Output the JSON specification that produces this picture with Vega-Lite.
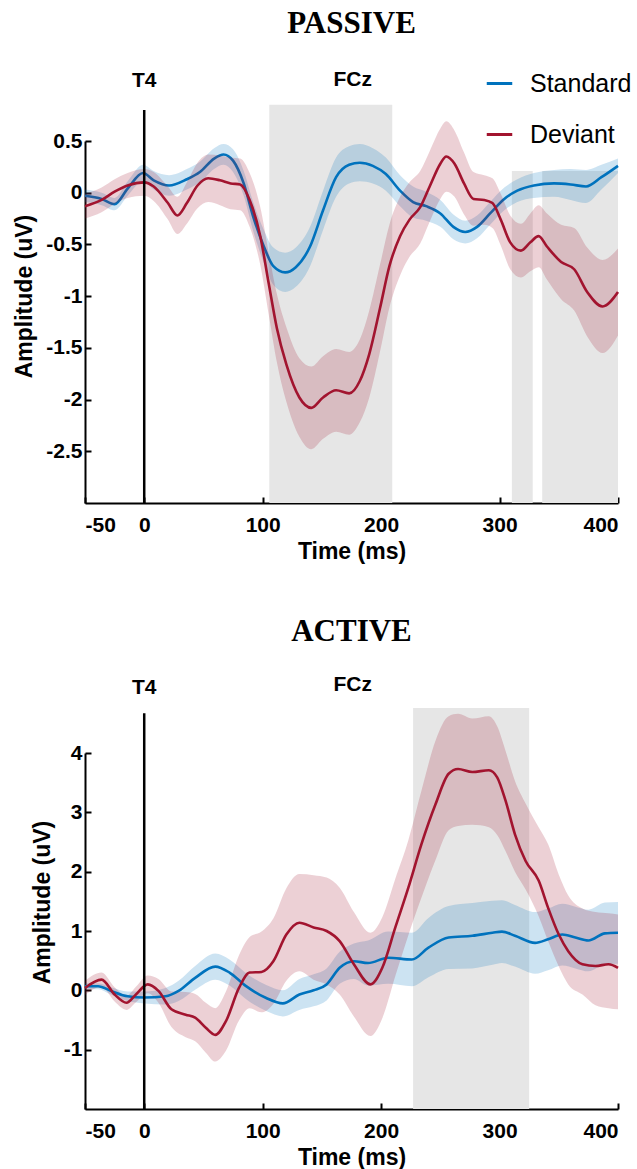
{
  "$schema": "https://vega.github.io/schema/vega-lite/v6.json",
  "padding": {"left": 13, "top": 8, "right": 0, "bottom": 0},
  "config": {
    "view": {"stroke": null},
    "axis": {"domainColor": "black", "domainWidth": 2, "tickColor": "black", "tickWidth": 2, "tickSize": -6, "grid": false,
      "labelFont": "Liberation Sans", "labelFontWeight": "bold", "labelFontSize": 21, "labelColor": "black",
      "titleFont": "Liberation Sans", "titleFontWeight": "bold", "titleFontSize": 23, "titleColor": "black"},
    "title": {"font": "Liberation Serif", "fontSize": 31, "fontWeight": "bold", "color": "black", "anchor": "middle"}
  },
  "datasets": {
    "erp": [
      {"p":"PASSIVE","c":"Standard","t":-50,"m":-0.03,"lo":-0.09,"hi":0.03},
      {"p":"PASSIVE","c":"Standard","t":-36,"m":-0.06,"lo":-0.12,"hi":0.00},
      {"p":"PASSIVE","c":"Standard","t":-25,"m":-0.11,"lo":-0.17,"hi":-0.05},
      {"p":"PASSIVE","c":"Standard","t":-14,"m":0.04,"lo":-0.03,"hi":0.11},
      {"p":"PASSIVE","c":"Standard","t":-1,"m":0.19,"lo":0.11,"hi":0.27},
      {"p":"PASSIVE","c":"Standard","t":8,"m":0.12,"lo":0.03,"hi":0.21},
      {"p":"PASSIVE","c":"Standard","t":21,"m":0.07,"lo":-0.03,"hi":0.17},
      {"p":"PASSIVE","c":"Standard","t":36,"m":0.13,"lo":0.03,"hi":0.23},
      {"p":"PASSIVE","c":"Standard","t":47,"m":0.20,"lo":0.10,"hi":0.30},
      {"p":"PASSIVE","c":"Standard","t":59,"m":0.33,"lo":0.23,"hi":0.43},
      {"p":"PASSIVE","c":"Standard","t":67,"m":0.37,"lo":0.27,"hi":0.47},
      {"p":"PASSIVE","c":"Standard","t":75,"m":0.31,"lo":0.20,"hi":0.42},
      {"p":"PASSIVE","c":"Standard","t":84,"m":0.09,"lo":-0.03,"hi":0.21},
      {"p":"PASSIVE","c":"Standard","t":92,"m":-0.23,"lo":-0.37,"hi":-0.09},
      {"p":"PASSIVE","c":"Standard","t":101,"m":-0.52,"lo":-0.68,"hi":-0.36},
      {"p":"PASSIVE","c":"Standard","t":109,"m":-0.71,"lo":-0.89,"hi":-0.53},
      {"p":"PASSIVE","c":"Standard","t":119,"m":-0.77,"lo":-0.96,"hi":-0.58},
      {"p":"PASSIVE","c":"Standard","t":128,"m":-0.72,"lo":-0.91,"hi":-0.53},
      {"p":"PASSIVE","c":"Standard","t":140,"m":-0.52,"lo":-0.71,"hi":-0.33},
      {"p":"PASSIVE","c":"Standard","t":151,"m":-0.17,"lo":-0.36,"hi":0.02},
      {"p":"PASSIVE","c":"Standard","t":162,"m":0.15,"lo":-0.04,"hi":0.34},
      {"p":"PASSIVE","c":"Standard","t":173,"m":0.27,"lo":0.09,"hi":0.45},
      {"p":"PASSIVE","c":"Standard","t":182,"m":0.29,"lo":0.11,"hi":0.47},
      {"p":"PASSIVE","c":"Standard","t":193,"m":0.26,"lo":0.09,"hi":0.43},
      {"p":"PASSIVE","c":"Standard","t":204,"m":0.18,"lo":0.02,"hi":0.34},
      {"p":"PASSIVE","c":"Standard","t":216,"m":0.02,"lo":-0.13,"hi":0.17},
      {"p":"PASSIVE","c":"Standard","t":227,"m":-0.09,"lo":-0.24,"hi":0.06},
      {"p":"PASSIVE","c":"Standard","t":238,"m":-0.13,"lo":-0.27,"hi":0.01},
      {"p":"PASSIVE","c":"Standard","t":250,"m":-0.20,"lo":-0.33,"hi":-0.07},
      {"p":"PASSIVE","c":"Standard","t":261,"m":-0.33,"lo":-0.45,"hi":-0.21},
      {"p":"PASSIVE","c":"Standard","t":271,"m":-0.38,"lo":-0.49,"hi":-0.27},
      {"p":"PASSIVE","c":"Standard","t":281,"m":-0.33,"lo":-0.44,"hi":-0.22},
      {"p":"PASSIVE","c":"Standard","t":292,"m":-0.20,"lo":-0.31,"hi":-0.09},
      {"p":"PASSIVE","c":"Standard","t":304,"m":-0.06,"lo":-0.17,"hi":0.05},
      {"p":"PASSIVE","c":"Standard","t":315,"m":0.02,"lo":-0.09,"hi":0.13},
      {"p":"PASSIVE","c":"Standard","t":329,"m":0.07,"lo":-0.05,"hi":0.19},
      {"p":"PASSIVE","c":"Standard","t":346,"m":0.09,"lo":-0.04,"hi":0.22},
      {"p":"PASSIVE","c":"Standard","t":360,"m":0.08,"lo":-0.07,"hi":0.23},
      {"p":"PASSIVE","c":"Standard","t":373,"m":0.06,"lo":-0.10,"hi":0.22},
      {"p":"PASSIVE","c":"Standard","t":386,"m":0.15,"lo":0.03,"hi":0.27},
      {"p":"PASSIVE","c":"Standard","t":400,"m":0.26,"lo":0.19,"hi":0.33},

      {"p":"PASSIVE","c":"Deviant","t":-50,"m":-0.13,"lo":-0.25,"hi":-0.01},
      {"p":"PASSIVE","c":"Deviant","t":-36,"m":-0.07,"lo":-0.19,"hi":0.05},
      {"p":"PASSIVE","c":"Deviant","t":-25,"m":0.01,"lo":-0.11,"hi":0.13},
      {"p":"PASSIVE","c":"Deviant","t":-14,"m":0.07,"lo":-0.05,"hi":0.19},
      {"p":"PASSIVE","c":"Deviant","t":0,"m":0.10,"lo":-0.03,"hi":0.23},
      {"p":"PASSIVE","c":"Deviant","t":8,"m":0.06,"lo":-0.08,"hi":0.20},
      {"p":"PASSIVE","c":"Deviant","t":20,"m":-0.10,"lo":-0.26,"hi":0.06},
      {"p":"PASSIVE","c":"Deviant","t":28,"m":-0.22,"lo":-0.40,"hi":-0.04},
      {"p":"PASSIVE","c":"Deviant","t":36,"m":-0.10,"lo":-0.30,"hi":0.10},
      {"p":"PASSIVE","c":"Deviant","t":45,"m":0.07,"lo":-0.15,"hi":0.29},
      {"p":"PASSIVE","c":"Deviant","t":54,"m":0.14,"lo":-0.09,"hi":0.37},
      {"p":"PASSIVE","c":"Deviant","t":64,"m":0.12,"lo":-0.12,"hi":0.36},
      {"p":"PASSIVE","c":"Deviant","t":73,"m":0.09,"lo":-0.16,"hi":0.34},
      {"p":"PASSIVE","c":"Deviant","t":81,"m":0.08,"lo":-0.17,"hi":0.33},
      {"p":"PASSIVE","c":"Deviant","t":89,"m":-0.07,"lo":-0.33,"hi":0.19},
      {"p":"PASSIVE","c":"Deviant","t":98,"m":-0.42,"lo":-0.70,"hi":-0.14},
      {"p":"PASSIVE","c":"Deviant","t":105,"m":-0.87,"lo":-1.17,"hi":-0.57},
      {"p":"PASSIVE","c":"Deviant","t":112,"m":-1.31,"lo":-1.64,"hi":-0.98},
      {"p":"PASSIVE","c":"Deviant","t":120,"m":-1.66,"lo":-2.02,"hi":-1.30},
      {"p":"PASSIVE","c":"Deviant","t":131,"m":-1.98,"lo":-2.36,"hi":-1.60},
      {"p":"PASSIVE","c":"Deviant","t":141,"m":-2.08,"lo":-2.48,"hi":-1.68},
      {"p":"PASSIVE","c":"Deviant","t":151,"m":-1.98,"lo":-2.38,"hi":-1.58},
      {"p":"PASSIVE","c":"Deviant","t":162,"m":-1.91,"lo":-2.31,"hi":-1.51},
      {"p":"PASSIVE","c":"Deviant","t":173,"m":-1.94,"lo":-2.34,"hi":-1.54},
      {"p":"PASSIVE","c":"Deviant","t":182,"m":-1.82,"lo":-2.22,"hi":-1.42},
      {"p":"PASSIVE","c":"Deviant","t":190,"m":-1.56,"lo":-1.98,"hi":-1.14},
      {"p":"PASSIVE","c":"Deviant","t":199,"m":-1.12,"lo":-1.54,"hi":-0.70},
      {"p":"PASSIVE","c":"Deviant","t":207,"m":-0.71,"lo":-1.11,"hi":-0.31},
      {"p":"PASSIVE","c":"Deviant","t":216,"m":-0.42,"lo":-0.80,"hi":-0.04},
      {"p":"PASSIVE","c":"Deviant","t":224,"m":-0.26,"lo":-0.62,"hi":0.10},
      {"p":"PASSIVE","c":"Deviant","t":233,"m":-0.14,"lo":-0.49,"hi":0.21},
      {"p":"PASSIVE","c":"Deviant","t":241,"m":0.06,"lo":-0.28,"hi":0.40},
      {"p":"PASSIVE","c":"Deviant","t":250,"m":0.28,"lo":-0.06,"hi":0.62},
      {"p":"PASSIVE","c":"Deviant","t":255,"m":0.35,"lo":0.01,"hi":0.69},
      {"p":"PASSIVE","c":"Deviant","t":262,"m":0.28,"lo":-0.04,"hi":0.60},
      {"p":"PASSIVE","c":"Deviant","t":270,"m":0.09,"lo":-0.21,"hi":0.39},
      {"p":"PASSIVE","c":"Deviant","t":278,"m":-0.06,"lo":-0.32,"hi":0.20},
      {"p":"PASSIVE","c":"Deviant","t":287,"m":-0.07,"lo":-0.31,"hi":0.17},
      {"p":"PASSIVE","c":"Deviant","t":294,"m":-0.10,"lo":-0.34,"hi":0.14},
      {"p":"PASSIVE","c":"Deviant","t":301,"m":-0.26,"lo":-0.51,"hi":-0.01},
      {"p":"PASSIVE","c":"Deviant","t":309,"m":-0.48,"lo":-0.74,"hi":-0.22},
      {"p":"PASSIVE","c":"Deviant","t":318,"m":-0.56,"lo":-0.82,"hi":-0.30},
      {"p":"PASSIVE","c":"Deviant","t":326,"m":-0.48,"lo":-0.76,"hi":-0.20},
      {"p":"PASSIVE","c":"Deviant","t":333,"m":-0.42,"lo":-0.72,"hi":-0.12},
      {"p":"PASSIVE","c":"Deviant","t":340,"m":-0.52,"lo":-0.84,"hi":-0.20},
      {"p":"PASSIVE","c":"Deviant","t":352,"m":-0.67,"lo":-1.03,"hi":-0.31},
      {"p":"PASSIVE","c":"Deviant","t":363,"m":-0.74,"lo":-1.14,"hi":-0.34},
      {"p":"PASSIVE","c":"Deviant","t":374,"m":-0.96,"lo":-1.39,"hi":-0.53},
      {"p":"PASSIVE","c":"Deviant","t":387,"m":-1.10,"lo":-1.55,"hi":-0.65},
      {"p":"PASSIVE","c":"Deviant","t":400,"m":-0.96,"lo":-1.38,"hi":-0.54},

      {"p":"ACTIVE","c":"Standard","t":-50,"m":0.07,"lo":0.02,"hi":0.12},
      {"p":"ACTIVE","c":"Standard","t":-39,"m":0.07,"lo":0.02,"hi":0.12},
      {"p":"ACTIVE","c":"Standard","t":-28,"m":-0.01,"lo":-0.07,"hi":0.05},
      {"p":"ACTIVE","c":"Standard","t":-14,"m":-0.10,"lo":-0.18,"hi":-0.02},
      {"p":"ACTIVE","c":"Standard","t":0,"m":-0.12,"lo":-0.22,"hi":-0.02},
      {"p":"ACTIVE","c":"Standard","t":18,"m":-0.10,"lo":-0.24,"hi":0.04},
      {"p":"ACTIVE","c":"Standard","t":29,"m":-0.01,"lo":-0.18,"hi":0.16},
      {"p":"ACTIVE","c":"Standard","t":43,"m":0.21,"lo":0.01,"hi":0.41},
      {"p":"ACTIVE","c":"Standard","t":60,"m":0.40,"lo":0.18,"hi":0.62},
      {"p":"ACTIVE","c":"Standard","t":72,"m":0.30,"lo":0.08,"hi":0.52},
      {"p":"ACTIVE","c":"Standard","t":86,"m":0.07,"lo":-0.15,"hi":0.29},
      {"p":"ACTIVE","c":"Standard","t":103,"m":-0.13,"lo":-0.35,"hi":0.09},
      {"p":"ACTIVE","c":"Standard","t":117,"m":-0.22,"lo":-0.44,"hi":0.00},
      {"p":"ACTIVE","c":"Standard","t":131,"m":-0.07,"lo":-0.33,"hi":0.19},
      {"p":"ACTIVE","c":"Standard","t":143,"m":0.00,"lo":-0.27,"hi":0.27},
      {"p":"ACTIVE","c":"Standard","t":154,"m":0.10,"lo":-0.17,"hi":0.37},
      {"p":"ACTIVE","c":"Standard","t":165,"m":0.38,"lo":0.11,"hi":0.65},
      {"p":"ACTIVE","c":"Standard","t":177,"m":0.49,"lo":0.19,"hi":0.79},
      {"p":"ACTIVE","c":"Standard","t":189,"m":0.46,"lo":0.08,"hi":0.84},
      {"p":"ACTIVE","c":"Standard","t":206,"m":0.55,"lo":0.11,"hi":0.99},
      {"p":"ACTIVE","c":"Standard","t":226,"m":0.52,"lo":0.07,"hi":0.97},
      {"p":"ACTIVE","c":"Standard","t":240,"m":0.72,"lo":0.22,"hi":1.22},
      {"p":"ACTIVE","c":"Standard","t":257,"m":0.89,"lo":0.36,"hi":1.42},
      {"p":"ACTIVE","c":"Standard","t":277,"m":0.92,"lo":0.37,"hi":1.47},
      {"p":"ACTIVE","c":"Standard","t":294,"m":0.97,"lo":0.43,"hi":1.51},
      {"p":"ACTIVE","c":"Standard","t":302,"m":0.99,"lo":0.46,"hi":1.52},
      {"p":"ACTIVE","c":"Standard","t":313,"m":0.92,"lo":0.40,"hi":1.44},
      {"p":"ACTIVE","c":"Standard","t":330,"m":0.80,"lo":0.28,"hi":1.32},
      {"p":"ACTIVE","c":"Standard","t":341,"m":0.86,"lo":0.34,"hi":1.38},
      {"p":"ACTIVE","c":"Standard","t":353,"m":0.94,"lo":0.42,"hi":1.46},
      {"p":"ACTIVE","c":"Standard","t":364,"m":0.89,"lo":0.37,"hi":1.41},
      {"p":"ACTIVE","c":"Standard","t":375,"m":0.84,"lo":0.32,"hi":1.36},
      {"p":"ACTIVE","c":"Standard","t":389,"m":0.96,"lo":0.44,"hi":1.48},
      {"p":"ACTIVE","c":"Standard","t":400,"m":0.97,"lo":0.45,"hi":1.49},

      {"p":"ACTIVE","c":"Deviant","t":-50,"m":0.04,"lo":-0.08,"hi":0.16},
      {"p":"ACTIVE","c":"Deviant","t":-36,"m":0.18,"lo":0.06,"hi":0.30},
      {"p":"ACTIVE","c":"Deviant","t":-25,"m":-0.07,"lo":-0.19,"hi":0.05},
      {"p":"ACTIVE","c":"Deviant","t":-15,"m":-0.21,"lo":-0.33,"hi":-0.09},
      {"p":"ACTIVE","c":"Deviant","t":-7,"m":-0.07,"lo":-0.20,"hi":0.06},
      {"p":"ACTIVE","c":"Deviant","t":3,"m":0.10,"lo":-0.05,"hi":0.25},
      {"p":"ACTIVE","c":"Deviant","t":12,"m":-0.01,"lo":-0.21,"hi":0.19},
      {"p":"ACTIVE","c":"Deviant","t":23,"m":-0.32,"lo":-0.62,"hi":-0.02},
      {"p":"ACTIVE","c":"Deviant","t":35,"m":-0.41,"lo":-0.79,"hi":-0.03},
      {"p":"ACTIVE","c":"Deviant","t":43,"m":-0.46,"lo":-0.86,"hi":-0.06},
      {"p":"ACTIVE","c":"Deviant","t":52,"m":-0.63,"lo":-1.05,"hi":-0.21},
      {"p":"ACTIVE","c":"Deviant","t":60,"m":-0.75,"lo":-1.20,"hi":-0.30},
      {"p":"ACTIVE","c":"Deviant","t":69,"m":-0.52,"lo":-1.02,"hi":-0.02},
      {"p":"ACTIVE","c":"Deviant","t":80,"m":0.04,"lo":-0.51,"hi":0.59},
      {"p":"ACTIVE","c":"Deviant","t":89,"m":0.30,"lo":-0.30,"hi":0.90},
      {"p":"ACTIVE","c":"Deviant","t":99,"m":0.31,"lo":-0.37,"hi":0.99},
      {"p":"ACTIVE","c":"Deviant","t":109,"m":0.49,"lo":-0.23,"hi":1.21},
      {"p":"ACTIVE","c":"Deviant","t":120,"m":0.94,"lo":0.16,"hi":1.72},
      {"p":"ACTIVE","c":"Deviant","t":131,"m":1.14,"lo":0.32,"hi":1.96},
      {"p":"ACTIVE","c":"Deviant","t":143,"m":1.06,"lo":0.18,"hi":1.94},
      {"p":"ACTIVE","c":"Deviant","t":154,"m":1.00,"lo":0.10,"hi":1.90},
      {"p":"ACTIVE","c":"Deviant","t":165,"m":0.83,"lo":-0.07,"hi":1.73},
      {"p":"ACTIVE","c":"Deviant","t":177,"m":0.44,"lo":-0.44,"hi":1.32},
      {"p":"ACTIVE","c":"Deviant","t":191,"m":0.10,"lo":-0.77,"hi":0.97},
      {"p":"ACTIVE","c":"Deviant","t":201,"m":0.38,"lo":-0.47,"hi":1.23},
      {"p":"ACTIVE","c":"Deviant","t":212,"m":1.06,"lo":0.24,"hi":1.88},
      {"p":"ACTIVE","c":"Deviant","t":223,"m":1.73,"lo":0.93,"hi":2.53},
      {"p":"ACTIVE","c":"Deviant","t":234,"m":2.46,"lo":1.56,"hi":3.36},
      {"p":"ACTIVE","c":"Deviant","t":246,"m":3.14,"lo":2.20,"hi":4.21},
      {"p":"ACTIVE","c":"Deviant","t":257,"m":3.65,"lo":2.70,"hi":4.62},
      {"p":"ACTIVE","c":"Deviant","t":265,"m":3.73,"lo":2.77,"hi":4.66},
      {"p":"ACTIVE","c":"Deviant","t":277,"m":3.68,"lo":2.79,"hi":4.58},
      {"p":"ACTIVE","c":"Deviant","t":291,"m":3.71,"lo":2.75,"hi":4.62},
      {"p":"ACTIVE","c":"Deviant","t":298,"m":3.59,"lo":2.62,"hi":4.45},
      {"p":"ACTIVE","c":"Deviant","t":305,"m":3.20,"lo":2.35,"hi":4.04},
      {"p":"ACTIVE","c":"Deviant","t":313,"m":2.63,"lo":2.00,"hi":3.53},
      {"p":"ACTIVE","c":"Deviant","t":322,"m":2.18,"lo":1.70,"hi":3.15},
      {"p":"ACTIVE","c":"Deviant","t":333,"m":1.85,"lo":1.25,"hi":2.75},
      {"p":"ACTIVE","c":"Deviant","t":341,"m":1.39,"lo":0.83,"hi":2.46},
      {"p":"ACTIVE","c":"Deviant","t":350,"m":0.94,"lo":0.40,"hi":1.95},
      {"p":"ACTIVE","c":"Deviant","t":358,"m":0.66,"lo":0.10,"hi":1.60},
      {"p":"ACTIVE","c":"Deviant","t":370,"m":0.44,"lo":-0.07,"hi":1.38},
      {"p":"ACTIVE","c":"Deviant","t":381,"m":0.41,"lo":-0.25,"hi":1.32},
      {"p":"ACTIVE","c":"Deviant","t":392,"m":0.44,"lo":-0.30,"hi":1.30},
      {"p":"ACTIVE","c":"Deviant","t":400,"m":0.38,"lo":-0.32,"hi":1.28}
    ],
    "rects": [
      {"p":"PASSIVE","x1":105.6,"x2":209.4,"y1":-3,"y2":0.85},
      {"p":"PASSIVE","x1":310.4,"x2":328,"y1":-3,"y2":0.21},
      {"p":"PASSIVE","x1":336,"x2":400,"y1":-3,"y2":0.21},
      {"p":"ACTIVE","x1":227,"x2":325,"y1":-2,"y2":4.76}
    ],
    "rules": [
      {"p":"PASSIVE","t":0,"y1":-3,"y2":0.8},
      {"p":"ACTIVE","t":0,"y1":-2,"y2":4.67}
    ],
    "labels": [
      {"p":"PASSIVE","t":0,"y":1.02,"label":"T4"},
      {"p":"PASSIVE","t":176,"y":1.03,"label":"FCz"},
      {"p":"ACTIVE","t":0,"y":4.99,"label":"T4"},
      {"p":"ACTIVE","t":176,"y":5.05,"label":"FCz"}
    ]
  },
  "vconcat": [
    {
      "title": {"text": "PASSIVE", "offset": 29},
      "width": 533,
      "height": 362,
      "layer": [
        {
          "data": {"name": "rects"},
          "transform": [{"filter": "datum.p == 'PASSIVE'"}],
          "mark": {"type": "rect", "color": "#e6e6e6"},
          "encoding": {
            "x": {"field": "x1", "type": "quantitative", "title": "Time (ms)",
              "scale": {"domain": [-50, 400], "nice": false, "zero": false},
              "axis": {"values": [-50, 0, 100, 200, 300, 400], "labelExpr": "'' + datum.value", "labelPadding": 17, "titlePadding": 5}},
            "x2": {"field": "x2"},
            "y": {"field": "y1", "type": "quantitative", "title": "Amplitude (uV)",
              "scale": {"domain": [-3, 0.5], "nice": false, "zero": false},
              "axis": {"values": [-2.5, -2, -1.5, -1, -0.5, 0, 0.5], "labelExpr": "'' + datum.value", "labelPadding": 9, "titlePadding": 9, "titleY": 155}},
            "y2": {"field": "y2"}
          }
        },
        {
          "data": {"name": "erp"},
          "transform": [{"filter": "datum.p == 'PASSIVE' && datum.c == 'Standard'"}],
          "mark": {"type": "area", "opacity": 0.2, "interpolate": "monotone", "color": "#0072BD"},
          "encoding": {
            "x": {"field": "t", "type": "quantitative", "title": "Time (ms)"},
            "y": {"field": "lo", "type": "quantitative", "title": "Amplitude (uV)"},
            "y2": {"field": "hi"}
          }
        },
        {
          "data": {"name": "erp"},
          "transform": [{"filter": "datum.p == 'PASSIVE' && datum.c == 'Standard'"}],
          "mark": {"type": "line", "strokeWidth": 2.6, "interpolate": "monotone"},
          "encoding": {
            "x": {"field": "t", "type": "quantitative", "title": "Time (ms)"},
            "y": {"field": "m", "type": "quantitative", "title": "Amplitude (uV)"},
            "color": {"field": "c", "type": "nominal",
              "scale": {"domain": ["Standard", "Deviant"], "range": ["#0072BD", "#A2142F"]},
              "legend": {"orient": "none", "legendX": 400, "legendY": -72, "title": null, "symbolType": "stroke",
                "symbolSize": 650, "symbolStrokeWidth": 3, "labelFont": "Liberation Sans", "labelFontSize": 25,
                "labelColor": "black", "labelOffset": 16, "rowPadding": 23, "padding": 0}}
          }
        },
        {
          "data": {"name": "erp"},
          "transform": [{"filter": "datum.p == 'PASSIVE' && datum.c == 'Deviant'"}],
          "mark": {"type": "area", "opacity": 0.2, "interpolate": "monotone", "color": "#A2142F"},
          "encoding": {
            "x": {"field": "t", "type": "quantitative", "title": "Time (ms)"},
            "y": {"field": "lo", "type": "quantitative", "title": "Amplitude (uV)"},
            "y2": {"field": "hi"}
          }
        },
        {
          "data": {"name": "erp"},
          "transform": [{"filter": "datum.p == 'PASSIVE' && datum.c == 'Deviant'"}],
          "mark": {"type": "line", "strokeWidth": 2.6, "interpolate": "monotone"},
          "encoding": {
            "x": {"field": "t", "type": "quantitative", "title": "Time (ms)"},
            "y": {"field": "m", "type": "quantitative", "title": "Amplitude (uV)"},
            "color": {"field": "c", "type": "nominal",
              "legend": {"orient": "none", "legendX": 400, "legendY": -72, "title": null, "symbolType": "stroke",
                "symbolSize": 650, "symbolStrokeWidth": 3, "labelFont": "Liberation Sans", "labelFontSize": 25,
                "labelColor": "black", "labelOffset": 16, "rowPadding": 23, "padding": 0}}
          }
        },
        {
          "data": {"name": "rules"},
          "transform": [{"filter": "datum.p == 'PASSIVE'"}],
          "mark": {"type": "rule", "color": "black", "strokeWidth": 2.5},
          "encoding": {
            "x": {"field": "t", "type": "quantitative", "title": "Time (ms)"},
            "y": {"field": "y1", "type": "quantitative", "title": "Amplitude (uV)"},
            "y2": {"field": "y2"}
          }
        },
        {
          "data": {"name": "labels"},
          "transform": [{"filter": "datum.p == 'PASSIVE'"}],
          "mark": {"type": "text", "font": "Liberation Sans", "fontWeight": "bold", "fontSize": 21, "baseline": "alphabetic", "align": "center", "color": "black"},
          "encoding": {
            "x": {"field": "t", "type": "quantitative", "title": "Time (ms)"},
            "y": {"field": "y", "type": "quantitative", "title": "Amplitude (uV)"},
            "text": {"field": "label"}
          }
        }
      ]
    },
    {
      "title": {"text": "ACTIVE", "offset": 26},
      "width": 533,
      "height": 356,
      "layer": [
        {
          "data": {"name": "rects"},
          "transform": [{"filter": "datum.p == 'ACTIVE'"}],
          "mark": {"type": "rect", "color": "#e6e6e6"},
          "encoding": {
            "x": {"field": "x1", "type": "quantitative", "title": "Time (ms)",
              "scale": {"domain": [-50, 400], "nice": false, "zero": false},
              "axis": {"values": [-50, 0, 100, 200, 300, 400], "labelExpr": "'' + datum.value", "labelPadding": 17, "titlePadding": 5}},
            "x2": {"field": "x2"},
            "y": {"field": "y1", "type": "quantitative", "title": "Amplitude (uV)",
              "scale": {"domain": [-2, 4], "nice": false, "zero": false},
              "axis": {"values": [-1, 0, 1, 2, 3, 4], "labelExpr": "'' + datum.value", "labelPadding": 9, "titlePadding": 9, "titleY": 149}},
            "y2": {"field": "y2"}
          }
        },
        {
          "data": {"name": "erp"},
          "transform": [{"filter": "datum.p == 'ACTIVE' && datum.c == 'Standard'"}],
          "mark": {"type": "area", "opacity": 0.2, "interpolate": "monotone", "color": "#0072BD"},
          "encoding": {
            "x": {"field": "t", "type": "quantitative", "title": "Time (ms)"},
            "y": {"field": "lo", "type": "quantitative", "title": "Amplitude (uV)"},
            "y2": {"field": "hi"}
          }
        },
        {
          "data": {"name": "erp"},
          "transform": [{"filter": "datum.p == 'ACTIVE' && datum.c == 'Deviant'"}],
          "mark": {"type": "area", "opacity": 0.2, "interpolate": "monotone", "color": "#A2142F"},
          "encoding": {
            "x": {"field": "t", "type": "quantitative", "title": "Time (ms)"},
            "y": {"field": "lo", "type": "quantitative", "title": "Amplitude (uV)"},
            "y2": {"field": "hi"}
          }
        },
        {
          "data": {"name": "erp"},
          "transform": [{"filter": "datum.p == 'ACTIVE' && datum.c == 'Standard'"}],
          "mark": {"type": "line", "strokeWidth": 2.6, "interpolate": "monotone", "color": "#0072BD"},
          "encoding": {
            "x": {"field": "t", "type": "quantitative", "title": "Time (ms)"},
            "y": {"field": "m", "type": "quantitative", "title": "Amplitude (uV)"}
          }
        },
        {
          "data": {"name": "erp"},
          "transform": [{"filter": "datum.p == 'ACTIVE' && datum.c == 'Deviant'"}],
          "mark": {"type": "line", "strokeWidth": 2.6, "interpolate": "monotone", "color": "#A2142F"},
          "encoding": {
            "x": {"field": "t", "type": "quantitative", "title": "Time (ms)"},
            "y": {"field": "m", "type": "quantitative", "title": "Amplitude (uV)"}
          }
        },
        {
          "data": {"name": "rules"},
          "transform": [{"filter": "datum.p == 'ACTIVE'"}],
          "mark": {"type": "rule", "color": "black", "strokeWidth": 2.5},
          "encoding": {
            "x": {"field": "t", "type": "quantitative", "title": "Time (ms)"},
            "y": {"field": "y1", "type": "quantitative", "title": "Amplitude (uV)"},
            "y2": {"field": "y2"}
          }
        },
        {
          "data": {"name": "labels"},
          "transform": [{"filter": "datum.p == 'ACTIVE'"}],
          "mark": {"type": "text", "font": "Liberation Sans", "fontWeight": "bold", "fontSize": 21, "baseline": "alphabetic", "align": "center", "color": "black"},
          "encoding": {
            "x": {"field": "t", "type": "quantitative", "title": "Time (ms)"},
            "y": {"field": "y", "type": "quantitative", "title": "Amplitude (uV)"},
            "text": {"field": "label"}
          }
        }
      ]
    }
  ],
  "spacing": 250,
  "bounds": "flush",
  "resolve": {"legend": {"color": "independent"}, "scale": {"x": "independent", "y": "independent"}}
}
